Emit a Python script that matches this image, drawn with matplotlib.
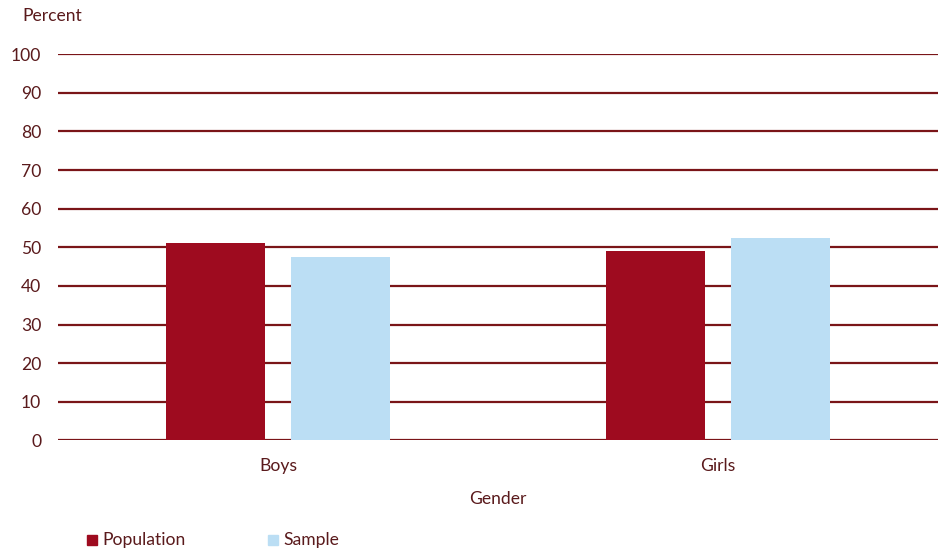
import matplotlib.pyplot as plt
import numpy as np
from matplotlib.patches import Rectangle

plt.rcParams['font.family'] = ['Lato', 'DejaVu Sans']

categories = ["Boys", "Girls"]
population = [51.0, 49.0]
sample = [47.5, 52.5]
yticks = [0, 10, 20, 30, 40, 50, 60, 70, 80, 90, 100]

pop_color = "#9E0B1F"
sample_color = "#BBDEF4"
grid_color = "#7A1518"
text_color = "#5A1A1C"
fs = 12.6

fig = plt.figure(figsize=(9.38, 5.52), dpi=100)
ax = fig.add_axes([58 / 938, 111.7 / 552, 880 / 938, 386 / 552])

x = np.arange(len(categories))
width = 0.225
offset = 0.142
ax.bar(x - offset, population, width, color=pop_color, zorder=3)
ax.bar(x + offset, sample, width, color=sample_color, zorder=3)

for v in yticks:
    ax.axhline(v, color=grid_color, lw=1.6, zorder=2)

ax.set_xlim(-0.5, 1.5)
ax.set_ylim(0, 100)
ax.set_yticks(yticks)
ax.set_xticks(x)
ax.set_xticklabels(categories)
ax.tick_params(axis='both', length=0, labelsize=fs, colors=text_color)
ax.tick_params(axis='y', pad=12)
ax.tick_params(axis='x', pad=13)
for s in ax.spines.values():
    s.set_visible(False)

ax.set_xlabel("Gender", fontsize=fs, color=text_color, labelpad=12)
fig.text(22 / 938, 1 - 16 / 552, "Percent", fontsize=fs, color=text_color,
         ha='left', va='center')

# legend drawn as squares with labels in figure coordinates
leg_y = 1 - 540 / 552
sq = 10
for x0, col, lab in [(87, pop_color, "Population"), (268, sample_color, "Sample")]:
    fig.patches.append(Rectangle((x0 / 938, leg_y - sq / 2 / 552), sq / 938, sq / 552,
                                 transform=fig.transFigure, color=col))
    fig.text((x0 + 15) / 938, leg_y, lab, fontsize=fs, color=text_color,
             ha='left', va='center')

fig.savefig("out.png", dpi=100)
